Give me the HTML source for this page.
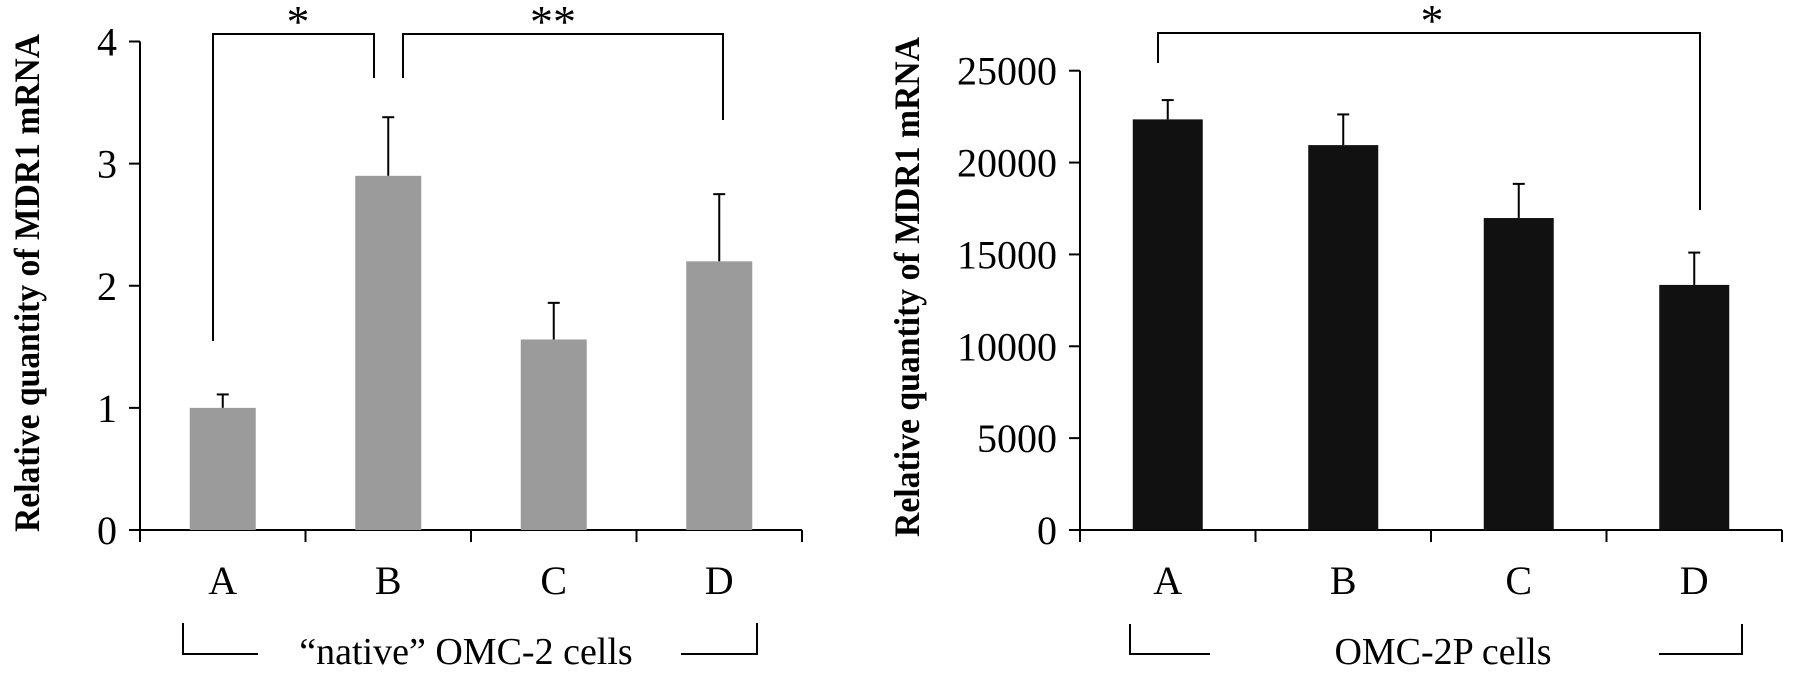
<!DOCTYPE html>
<html><head><meta charset="utf-8"><style>
html,body{margin:0;padding:0;background:#fff}
svg{display:block}
text{font-family:"Liberation Serif",serif;fill:#000}
</style></head><body>
<svg id="fig" width="1795" height="685" viewBox="0 0 1795 685" xmlns="http://www.w3.org/2000/svg"></svg>
<script>
const categories=["A","B","C","D"];
const leftValues=[1.0,2.9,1.56,2.2];
const leftErrors=[1.11,3.38,1.86,2.75];
const leftTicks=[0,1,2,3,4];
const rightValues=[22350,20950,16980,13340];
const rightErrors=[23400,22620,18840,15100];
const rightTicks=[0,5000,10000,15000,20000,25000];

const NS="http://www.w3.org/2000/svg";
const svg=document.getElementById('fig');
function el(tag,attrs,parent){const e=document.createElementNS(NS,tag);for(const k in attrs)e.setAttribute(k,attrs[k]);(parent||svg).appendChild(e);return e;}

function chart(cfg){
  const g=el('g',{});
  
  
  const x0=cfg.x0,step=cfg.step,y0=530;
  const yS=v=>y0-(v-cfg.min)/(cfg.max-cfg.min)*(y0-cfg.yTop);
  const xC=i=>x0+step*(i+0.5);
  const ya=el('line',{x1:x0,y1:yS(cfg.max),x2:x0,y2:y0,stroke:'#000','stroke-width':2},g);
  
  const xa=el('line',{x1:x0,y1:y0,x2:x0+step*categories.length,y2:y0,stroke:'#000','stroke-width':2},g);
  
  cfg.ticks.forEach(t=>{
    const y=yS(t);
    const tl=el('line',{x1:x0-11,y1:y,x2:x0,y2:y,stroke:'#000','stroke-width':2},g);
    
    const tx=el('text',{x:x0-23,y:y+14,'text-anchor':'end','font-size':40},g);
    tx.textContent=t;
    
  });
  for(let i=0;i<=categories.length;i++){
    const xt=x0+step*i;
    const tk=el('line',{x1:xt,y1:y0,x2:xt,y2:y0+12,stroke:'#000','stroke-width':2},g);
    
  }
  categories.forEach((c,i)=>{
    const cx=xC(i);
    const eb=el('line',{x1:cx,y1:yS(cfg.errs[i]),x2:cx,y2:yS(cfg.vals[i]),stroke:'#000','stroke-width':2},g);
    
    const ec=el('line',{x1:cx-6,y1:yS(cfg.errs[i]),x2:cx+6,y2:yS(cfg.errs[i]),stroke:'#000','stroke-width':2},g);
    
    const r=el('rect',{x:cx-cfg.bw/2,y:yS(cfg.vals[i]),width:cfg.bw,height:y0-yS(cfg.vals[i]),fill:cfg.color},g);
    
    const lb=el('text',{x:cx,y:594,'text-anchor':'middle','font-size':40},g);
    lb.textContent=c;
    
  });
  const yt=el('text',{x:0,y:0,'text-anchor':'middle','font-size':36,'font-weight':'bold',transform:`translate(${cfg.titleX},${cfg.titleY}) rotate(-90)`,textLength:cfg.titleLen,lengthAdjust:'spacingAndGlyphs'},g);
  yt.textContent='Relative quantity of MDR1 mRNA';
  
  return {g,xC,yS};
}

const L=chart({name:'left-chart',x0:140,step:165.5,min:0,max:4,yTop:41.5,ticks:leftTicks,vals:leftValues,errs:leftErrors,bw:66,color:'#9b9b9b',titleX:39,titleY:283,titleLen:498});
const R=chart({name:'right-chart',x0:1080,step:175.5,min:0,max:25000,yTop:70.7,ticks:rightTicks,vals:rightValues,errs:rightErrors,bw:70,color:'#111',titleX:919,titleY:287,titleLen:500});

function path(d,name,g){const p=el('path',{d:d,fill:'none',stroke:'#000','stroke-width':2},g);}
function txt(x,y,s,fs,name,g){const t=el('text',{x:x,y:y,'text-anchor':'middle','font-size':fs},g);t.textContent=s;}
path('M213 341 V34 H374 V78','significance-bracket-a-b',L.g);
txt(298,37,'*',46,'significance-star-a-b',L.g);
path('M403 78 V34 H723 V120','significance-bracket-b-d',L.g);
txt(553,37,'**',46,'significance-star-b-d',L.g);
path('M1158 63 V33 H1700 V210','significance-bracket-a-d',R.g);
txt(1432,36,'*',46,'significance-star-a-d',R.g);
path('M183 623 V654 H258','group-bracket-left',L.g);
path('M681 654 H757 V623','group-bracket-right',L.g);
txt(466,664,'\u201cnative\u201d OMC-2 cells',38,'group-label',L.g);
path('M1130 624 V654 H1210','group-bracket-left',R.g);
path('M1659 654 H1742 V624','group-bracket-right',R.g);
txt(1443,664,'OMC-2P cells',38,'group-label',R.g);
</script>
</body></html>
